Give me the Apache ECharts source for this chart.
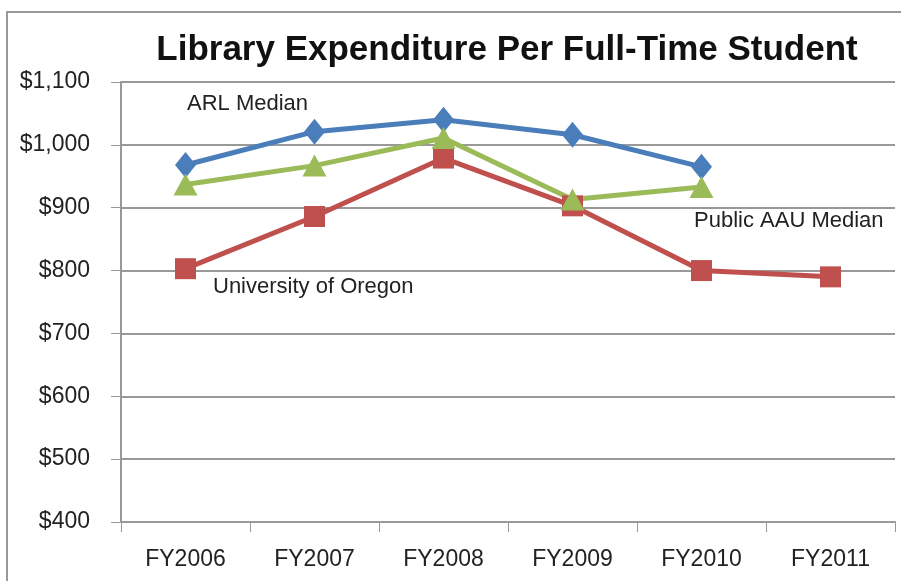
<!DOCTYPE html>
<html>
<head>
<meta charset="utf-8">
<script src="https://cdn.jsdelivr.net/npm/echarts@6/dist/echarts.min.js"></script>
<style>
  html, body { margin: 0; padding: 0; background: #fff; }
  #chart { width: 901px; height: 581px; }
</style>
</head>
<body>
<div id="chart"></div>
<script>
  const years = ['FY2006', 'FY2007', 'FY2008', 'FY2009', 'FY2010', 'FY2011'];
  const arlMedian = [968, 1021, 1040, 1016, 965, null];
  const publicAauMedian = [937, 967, 1011, 913, 933, null];
  const uOregon = [803, 886, 979, 903, 800, 790];

  const font = '"Liberation Sans Narrow", "Liberation Sans", sans-serif';
  const myChart = echarts.init(document.getElementById('chart'));

  let option = {
    animation: false,
    title: {
      text: 'Library Expenditure Per Full-Time Student',
      left: 502,
      textAlign: 'center',
      top: 28,
      textStyle: { fontFamily: font, fontWeight: 'bold', fontSize: 35, color: '#111' }
    },
    grid: { left: 121, right: 6, top: 82, bottom: 59 },
    xAxis: {
      type: 'category',
      data: years,
      boundaryGap: true,
      axisLine: { lineStyle: { color: '#999', width: 2 } },
      axisTick: { show: true, length: 10, lineStyle: { color: '#999', width: 1 } },
      axisLabel: { fontFamily: font, fontSize: 23, color: '#222', margin: 26 }
    },
    yAxis: {
      type: 'value',
      min: 400,
      max: 1100,
      interval: 100,
      axisLine: { show: true, lineStyle: { color: '#999', width: 2 } },
      axisTick: { show: true, length: 10, lineStyle: { color: '#999', width: 1 } },
      splitLine: { lineStyle: { color: '#999', width: 2 } },
      axisLabel: {
        fontFamily: font, fontSize: 23, color: '#222', margin: 31,
        formatter: v => '$' + v.toLocaleString('en-US')
      }
    },
    graphic: [
      {
        type: 'rect', silent: true, z: -1,
        shape: { x: 7, y: 12, width: 1200, height: 1000 },
        style: { fill: 'none', stroke: '#999', lineWidth: 2 }
      },
      { type: 'text', left: 187, top: 93, style: { text: 'ARL Median', fontFamily: font, fontSize: 22, fill: '#222' } },
      { type: 'text', left: 213, top: 276, style: { text: 'University of Oregon', fontFamily: font, fontSize: 22, fill: '#222' } },
      { type: 'text', left: 694, top: 210, style: { text: 'Public AAU Median', fontFamily: font, fontSize: 22, fill: '#222' } }
    ],
    series: [
      {
        name: 'University of Oregon',
        type: 'line',
        data: uOregon,
        symbol: 'rect',
        symbolSize: 21,
        lineStyle: { color: '#C0504D', width: 5 },
        itemStyle: { color: '#C0504D' }
      },
      {
        name: 'ARL Median',
        type: 'line',
        data: arlMedian,
        symbol: 'diamond',
        symbolSize: [21, 26],
        lineStyle: { color: '#4A7EBB', width: 5 },
        itemStyle: { color: '#4A7EBB' }
      },
      {
        name: 'Public AAU Median',
        type: 'line',
        data: publicAauMedian,
        symbol: 'triangle',
        symbolSize: [24, 22],
        lineStyle: { color: '#9BBB59', width: 5 },
        itemStyle: { color: '#9BBB59' }
      }
    ]
  };

  myChart.setOption(option);
  window.addEventListener('resize', function () {
    myChart.resize();
  });
</script>
</body>
</html>
